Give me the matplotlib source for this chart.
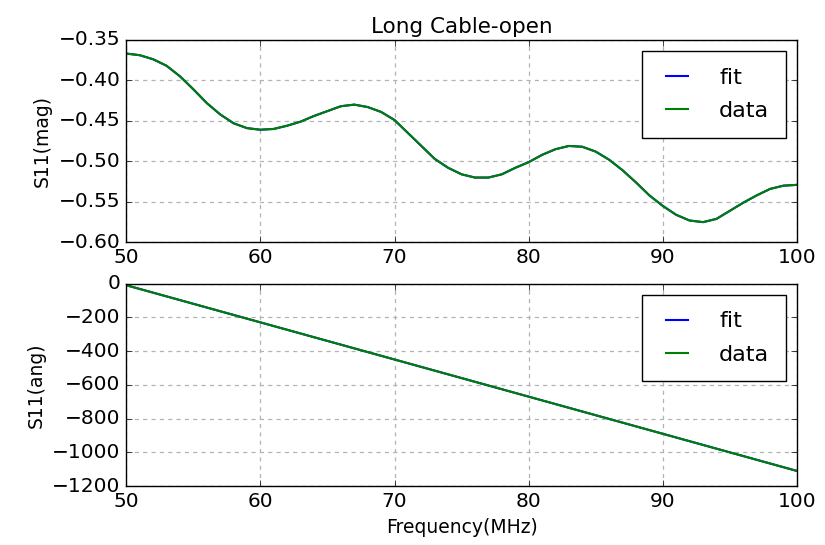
import numpy as np
import matplotlib
matplotlib.use("Agg")
from matplotlib import pyplot as plt

# ---------------------------------------------------------------------------------------------------
# Data
# ---------------------------------------------------------------------------------------------------
freq_mhz = np.arange(50, 101, 1)

s11_mag = [
    -0.367, -0.369, -0.374, -0.382, -0.395, -0.411, -0.428, -0.442, -0.453, -0.459,
    -0.461, -0.460, -0.456, -0.451, -0.444, -0.438, -0.432, -0.430, -0.433, -0.439,
    -0.449, -0.465, -0.481, -0.497, -0.508, -0.516, -0.520, -0.520, -0.516, -0.508,
    -0.501, -0.492, -0.485, -0.481, -0.482, -0.488, -0.498, -0.511, -0.526, -0.542,
    -0.555, -0.566, -0.573, -0.575, -0.571, -0.561, -0.551, -0.542, -0.534, -0.530,
    -0.529,
]

phase_freq_mhz = [50, 60, 70, 80, 90, 100]
s11_ang = [-10, -230, -450, -670, -890, -1110]

# ---------------------------------------------------------------------------------------------------
# Plot
# ---------------------------------------------------------------------------------------------------
plt.style.use("classic")
plt.rcParams["font.family"] = "DejaVu Sans"

fig, (ax1, ax2) = plt.subplots(2, 1, figsize=(8.25, 5.45), dpi=100, facecolor="white")
fig.subplots_adjust(left=0.153, right=0.966, top=0.927, bottom=0.108, hspace=0.203)

legend_kw = dict(loc="upper right", fontsize=16, handlelength=1.6, handletextpad=1.1,
                 borderpad=0.75, labelspacing=0.6, borderaxespad=0.5)
grid_kw = dict(color="0.7", linestyle=(0, (3, 3)), linewidth=0.9)

# magnitude
ax1.plot(freq_mhz, s11_mag, color="b", linewidth=1.5, label="fit")
ax1.plot(freq_mhz, s11_mag, color="g", linewidth=1.5, label="data")
ax1.set_title("Long Cable-open", fontsize=15.5)
ax1.set_ylabel("S11(mag)", fontsize=13.5)
ax1.set_xlim(50, 100)
ax1.set_ylim(-0.60, -0.35)
ax1.grid(True, **grid_kw)
ax1.legend(**legend_kw)

# angle
ax2.plot(phase_freq_mhz, s11_ang, color="b", linewidth=1.5, label="fit")
ax2.plot(phase_freq_mhz, s11_ang, color="g", linewidth=1.5, label="data")
ax2.set_xlabel("Frequency(MHz)", fontsize=13.5)
ax2.set_ylabel("S11(ang)", fontsize=13.5)
ax2.set_xlim(50, 100)
ax2.set_ylim(-1200, 0)
ax2.grid(True, **grid_kw)
ax2.legend(**legend_kw)

for ax in (ax1, ax2):
    ax.tick_params(labelsize=14.5)
    ax.set_axisbelow(True)

fig.savefig("out.png", dpi=100, facecolor="white")
